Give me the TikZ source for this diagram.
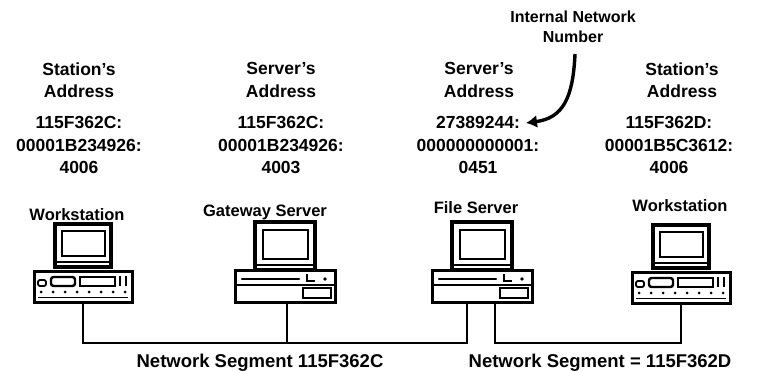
\documentclass[tikz,border=0pt]{standalone}
\usepackage{fontspec}
\setmainfont{Liberation Sans}
\usetikzlibrary{arrows.meta}
\begin{document}
\begin{tikzpicture}[x=1pt,y=-1pt,
  txt/.style={font=\bfseries\fontsize{17.5}{22.5}\selectfont, inner sep=0pt, align=center},
  devlabel/.style={font=\bfseries\fontsize{16.5}{20}\selectfont, inner sep=0pt},
  seglabel/.style={font=\bfseries\fontsize{18.5}{20}\selectfont, inner sep=0pt},
  bus/.style={line width=2pt},
  pointer/.style={line width=3.4pt, -{Latex[length=11pt,width=13pt]}},
  workstation/.pic={
    % system unit
    \draw[line width=3pt] (-49,-31) rectangle (49,0);
    \draw[line width=1.3pt] (-45,-4.5) -- (45,-4.5);
    \draw[line width=1.8pt, rounded corners=2pt] (-45,-22) rectangle (-37,-16);
    \draw[line width=2.4pt, rounded corners=2.5pt] (-32,-25) rectangle (-8,-16);
    \draw[line width=1.8pt] (-3,-25) rectangle (32,-16);
    \draw[line width=2.4pt] (37,-26) -- (37,-16) (43,-26) -- (43,-16);
    \foreach \i in {0,...,7} \fill (-42+12*\i,-10) circle (1.5pt);
    % monitor
    \draw[line width=3.6pt] (-28,-78) rectangle (28,-35);
    \draw[line width=2.4pt] (-21,-71) rectangle (22,-46);
    \draw[line width=1.8pt] (-28,-40) -- (28,-40);
    \coordinate (-leg) at (0,0);
  },
  server/.pic={
    % monitor
    \draw[line width=3.8pt] (-30,-80) rectangle (30,-32);
    \draw[line width=2.4pt] (-22,-72) rectangle (23,-43);
    \draw[line width=1.8pt] (-30,-37) -- (30,-37);
    % system unit
    \filldraw[fill=white, line width=3pt] (-50,-32) rectangle (50,0);
    \draw[line width=2.2pt] (-50,-17) -- (50,-17);
    \draw[line width=2.4pt, line cap=round] (-43,-23) -- (14,-23);
    \draw[line width=2pt] (22,-28) -- (22,-21) -- (30,-21);
    \fill (40,-23) circle (1.8pt);
    \draw[line width=2.8pt] (18,-14) rectangle (46,-4);
    \coordinate (-leg) at (2,0);
    \coordinate (-legL) at (-15,0);
    \coordinate (-legR) at (13,0);
  }
]
\useasboundingbox (0,0) rectangle (757,371);

% address blocks
\node[txt] (hd1) at (79,80) {Station's\\Address};
\node[txt] (ad1) at (79,145) {115F362C:\\00001B234926:\\4006};
\node[txt] (hd2) at (281,80) {Server's\\Address};
\node[txt] (ad2) at (281,145) {115F362C:\\00001B234926:\\4003};
\node[txt] (hd3) at (479,80) {Server's\\Address};
\node[txt] (ad3) at (478,145) {27389244:\\000000000001:\\0451};
\node[txt] (hd4) at (682,80) {Station's\\Address};
\node[txt] (ad4) at (669,145) {115F362D:\\00001B5C3612:\\4006};

% internal network number callout
\node[txt, font=\bfseries\fontsize{16}{20}\selectfont] (inn) at (573,27) {Internal Network\\Number};
\coordinate (innS) at (575,54);
\coordinate (innE) at (526,123);
\draw[pointer] (innS) .. controls (573,98) and (563,118) .. (innE);

% devices
\node[devlabel] (l1) at (77,215) {Workstation};
\node[devlabel] (l2) at (265,212) {Gateway Server};
\node[devlabel] (l3) at (476,208) {File Server};
\node[devlabel] (l4) at (680,206) {Workstation};

\pic (ws1) at (83,302) {workstation};
\pic (gw) at (285,302) {server};
\pic (fs) at (482,302) {server};
\pic (ws2) at (681,303) {workstation};

% network cabling
\coordinate (busA) at (0,343);
\draw[bus] (ws1-leg) -- (ws1-leg |- busA) -- (fs-legL |- busA) -- (fs-legL);
\draw[bus] (gw-leg) -- (gw-leg |- busA);
\draw[bus] (fs-legR) -- (fs-legR |- busA) -- (ws2-leg |- busA) -- (ws2-leg);

\node[seglabel] (seg1) at (260,363) {Network Segment 115F362C};
\node[seglabel] (seg2) at (600,363) {Network Segment = 115F362D};
\end{tikzpicture}
\end{document}
